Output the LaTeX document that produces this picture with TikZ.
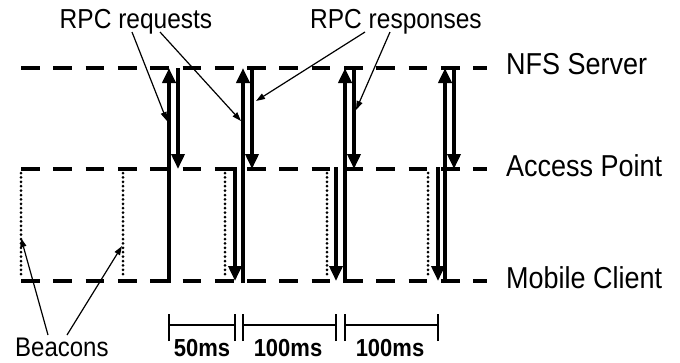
\documentclass[tikz,border=0pt]{standalone}
\usepackage{fontspec}
\setmainfont{Liberation Sans}
\usetikzlibrary{arrows.meta}
\newcommand\tallt[1]{\scalebox{1}[1.12]{#1}}
\begin{document}
\begin{tikzpicture}[x=1pt,y=-1pt,
  lane/.style={line width=4.7pt, dash pattern=on 18.7pt off 13.6pt},
  msg/.style={line width=4.2pt, -{Triangle[width=13pt,length=15pt]}},
  beacon/.style={line width=3pt, line cap=round, dash pattern=on 0pt off 4.4pt},
  note/.style={line width=1.2pt, -{Triangle[width=6pt,length=9pt]}},
  bar/.style={line width=1.6pt},
  lbl/.style={font=\fontsize{27}{27}\selectfont, anchor=base west, inner sep=0pt},
  top/.style={font=\fontsize{24.5}{24.5}\selectfont, anchor=base, inner sep=0pt},
  ms/.style={font=\bfseries\fontsize{22}{22}\selectfont, anchor=base, inner sep=0pt}]
\useasboundingbox (0,0) rectangle (680,362);

% lanes
\coordinate (nA) at (21,68);  \coordinate (nB) at (487,68);
\coordinate (aA) at (21,169); \coordinate (aB) at (487,169);
\coordinate (mA) at (21,281); \coordinate (mB) at (487,281);
\draw[lane] (nA) -- (nB);
\draw[lane] (aA) -- (aB);
\draw[lane] (mA) -- (mB);

\node[lbl] (nfs) at (506,74) {\tallt{NFS Server}};
\node[lbl] (ap) at (506,176) {\tallt{Access Point}};
\node[lbl] (mc) at (506,288) {\tallt{Mobile Client}};

% beacons
\foreach \x/\n in {21/b1,123/b2}{
  \coordinate (\n t) at (\x,173); \coordinate (\n b) at (\x,278);
  \draw[beacon] (\n t) -- (\n b);
}
% cycles: up arrows MC->NFS, down arrows NFS->AP
\foreach \u/\d/\n in {169/178/c1,243/252/c2,345/354/c3,445/454/c4}{
  \coordinate (\n m) at (\u,283); \coordinate (\n n) at (\u,68);
  \coordinate (\n s) at (\d,68); \coordinate (\n a) at (\d,169);
  \draw[msg] (\n m) -- (\n n);
  \draw[msg,line width=3.6pt] (\n s) -- (\n a);
}
% AP -> MC delivery with dotted beacon
\foreach \dt/\d/\n in {225/235/d2,327/336/d3,428/438/d4}{
  \coordinate (\n t) at (\dt,173); \coordinate (\n b) at (\dt,278);
  \draw[beacon] (\n t) -- (\n b);
  \coordinate (\n s) at (\d,167); \coordinate (\n e) at (\d,281);
  \draw[msg,line width=3.6pt] (\n s) -- (\n e);
}

% labels
\node[top] (req) at (136,28) {\tallt{RPC requests}};
\node[top] (resp) at (396,28) {\tallt{RPC responses}};
\node[font=\fontsize{24}{24}\selectfont, anchor=base west, inner sep=0pt] (bea) at (15,356) {\tallt{Beacons}};

\coordinate (r1s) at (132,32); \coordinate (r1e) at (167,121);
\coordinate (r2s) at (160,32); \coordinate (r2e) at (241,121);
\coordinate (p1s) at (365,32); \coordinate (p1e) at (256,101);
\coordinate (p2s) at (390,32); \coordinate (p2e) at (356,110);
\coordinate (e1s) at (48,335); \coordinate (e1e) at (21,238);
\coordinate (e2s) at (67,335); \coordinate (e2e) at (122,246);
\foreach \n in {r1,r2,p1,p2,e1,e2}{\draw[note] (\n s) -- (\n e);}

% scale bars
\foreach \a/\b/\n in {169/235/s1,243/336/s2,345/438/s3}{
  \coordinate (\n a) at (\a,325); \coordinate (\n b) at (\b,325);
  \draw[bar] (\n a) -- (\n b);
  \draw[bar] ([yshift=-16pt]\n a) -- ([yshift=11pt]\n a);
  \draw[bar] ([yshift=-16pt]\n b) -- ([yshift=11pt]\n b);
}
\node[ms] (t1) at (202,356) {\tallt{50ms}};
\node[ms] (t2) at (288,356) {\tallt{100ms}};
\node[ms] (t3) at (390,356) {\tallt{100ms}};
\end{tikzpicture}
\end{document}
